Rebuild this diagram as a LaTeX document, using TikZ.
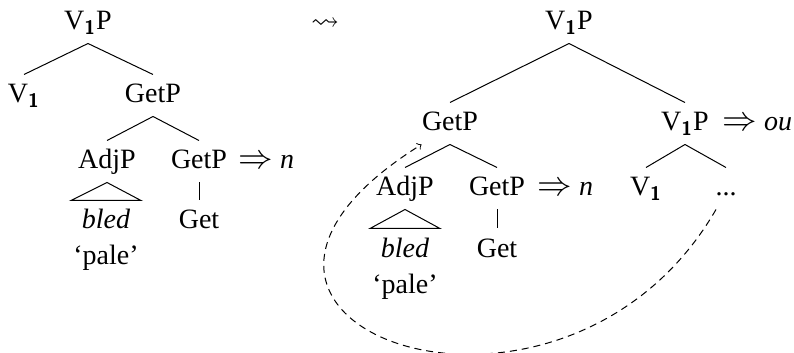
\documentclass[tikz,border=0pt]{standalone}
\usepackage{amsmath}
\usepackage{amssymb}
\usepackage{fontspec}
\setmainfont{Liberation Serif}
\usepackage{tikz}

\newcommand{\vone}{V\(_{\textsf{\textbf{1}}}\)}
\newcommand{\spellout}{{\fontsize{17}{17}\selectfont\(\Rightarrow\)}}

\begin{document}
\begin{tikzpicture}[x=0.5pt, y=-0.5pt, line width=0.5pt,
    every node/.style={font=\fontsize{14}{17}\selectfont},
    nd/.style={anchor=base, inner xsep=2pt, inner ysep=4pt, text height=10pt, text depth=2.5pt},
    spell/.style={anchor=base west, inner sep=0pt},
    mov/.style={->, dash pattern=on 3.5pt off 2.5pt}]
    \useasboundingbox (0,0) rectangle (794,353);

    % Arbol de la izquierda
    \node[nd] (lvp) at (88,30) {\vone P};
    \node[nd] (lv) at (24,103) {\vone};
    \node[nd] (lgp) at (153,103) {GetP};
    \node[nd] (ladj) at (107,169) {AdjP};
    \node[nd] (lgp2) at (199,169) {GetP};
    \node[spell] (lgn) at (238,169) {\spellout\ \textit{n}};
    \node[nd] (lbled) at (106,229) {\textit{bled}};
    \node[nd] (lget) at (199,229) {Get};
    \node[nd] (lpale) at (106,265) {`pale'};

    \draw (lvp.south) -- (lv.north);
    \draw (lvp.south) -- (lgp.north);
    \draw (lgp.south) -- (ladj.north);
    \draw (lgp.south) -- (lgp2.north);
    \draw (lgp2.south) -- (lget.north);
    \draw (ladj.south) -- ([xshift=-17.5pt]lbled.north) -- ([xshift=17.5pt]lbled.north) -- cycle;

    % Flecha entre los dos arboles
    \node[nd] (lead) at (325,30) {\(\leadsto\)};

    % Arbol de la derecha
    \node[nd] (rvp) at (569,30) {\vone P};
    \node[nd] (rgp) at (450,131) {GetP};
    \node[nd] (rvp2) at (685,131) {\vone P};
    \node[spell] (rvpn) at (722,131) {\spellout\ \textit{ou}};
    \node[nd] (radj) at (405,196) {AdjP};
    \node[nd] (rgp2) at (497,196) {GetP};
    \node[spell] (rgn) at (537,196) {\spellout\ \textit{n}};
    \node[nd] (rv) at (646,196) {\vone};
    \node[nd] (rdots) at (726,196) {...};
    \node[nd] (rbled) at (405,257) {\textit{bled}};
    \node[nd] (rget) at (497,257) {Get};
    \node[nd] (rpale) at (405,293) {`pale'};

    \draw (rvp.south) -- (rgp.north);
    \draw (rvp.south) -- (rvp2.north);
    \draw (rgp.south) -- (radj.north);
    \draw (rgp.south) -- (rgp2.north);
    \draw (rgp2.south) -- (rget.north);
    \draw (radj.south) -- ([xshift=-17.5pt]rbled.north) -- ([xshift=17.5pt]rbled.north) -- cycle;
    \draw (rvp2.south) -- (rv.north);
    \draw (rvp2.south) -- (rdots.north);

    % Movimiento de GetP
    \draw[mov] ([xshift=-5pt]rdots.south) .. controls +(-155,268) and +(-288,180) .. ([xshift=2pt]rgp.south west);
\end{tikzpicture}
\end{document}
